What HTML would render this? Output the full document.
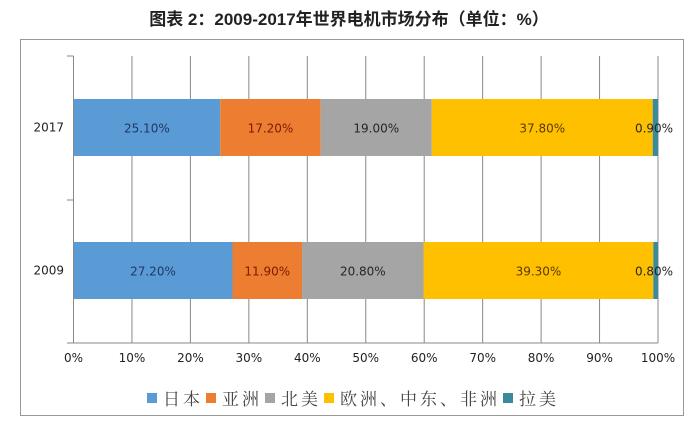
<!DOCTYPE html>
<html><head><meta charset="utf-8"><style>
body{margin:0;background:#fff;width:698px;height:429px;overflow:hidden;font-family:"Liberation Sans","Noto Sans CJK SC",sans-serif}
</style></head><body>
<svg width="698" height="429" style="position:absolute;left:0;top:0">
<text x="349" y="25" text-anchor="middle" font-size="17" font-weight="bold" fill="#222" font-family="Liberation Sans,Noto Sans CJK SC,sans-serif">图表 2：2009-2017年世界电机市场分布（单位：%）</text>
<rect x="20.5" y="39.5" width="663" height="376" fill="none" stroke="#999"/>
<g id="grid"></g><g id="bars"></g><g id="axes"></g><g id="legend"></g>
</svg>
<script>
const categories=["2017","2009"];
const seriesNames=["日本","亚洲","北美","欧洲、中东、非洲","拉美"];
const colors=["#5b9bd5","#ed7d31","#a5a5a5","#ffc000","#3a8a9a"];
const labelColors=["#1f3864","#7b1c00","#262626","#5a3a00","#262626"];
const values2017=[25.1,17.2,19.0,37.8,0.9];
const values2009=[27.2,11.9,20.8,39.3,0.8];
const seriesValues=[values2017,values2009];
const ticks=[0,10,20,30,40,50,60,70,80,90,100];
const NS="http://www.w3.org/2000/svg";
const X0=73.5,X1=658,YT=56,YB=343;
const xs=v=>X0+(X1-X0)*v/100;
const bandY=[99,242],bandH=57;
const LF="DejaVu Sans,Liberation Sans,sans-serif";
function mk(t,a,p){const e=document.createElementNS(NS,t);for(const k in a)e.setAttribute(k,a[k]);p.appendChild(e);return e;}
const grid=document.getElementById('grid'),bars=document.getElementById('bars'),axes=document.getElementById('axes'),leg=document.getElementById('legend');
ticks.forEach(t=>{
 const l=mk('line',{x1:xs(t),x2:xs(t),y1:YT,y2:YB,stroke:'#888','stroke-width':1},grid);
 
 
 const tx=mk('text',{x:xs(t),y:362,'text-anchor':'middle','font-size':12,fill:'#222','font-family':LF},axes);
 tx.textContent=t+'%';
 
 
});
const ax=mk('line',{x1:67,x2:X1,y1:YB,y2:YB,stroke:'#888'},axes);


const yax=mk('line',{x1:X0,x2:X0,y1:YT,y2:YB,stroke:'#888'},axes);


[YT,200].forEach(y=>{const tk=mk('line',{x1:67,x2:X0,y1:y,y2:y,stroke:'#888'},axes);
 
 });
categories.forEach((c,i)=>{
 const t=mk('text',{x:64,y:bandY[i]+bandH/2+4,'text-anchor':'end','font-size':12,fill:'#222','font-family':LF},axes);
 t.textContent=c;
 
 
 let acc=0;
 seriesValues[i].forEach((v,j)=>{
  const r=mk('rect',{x:xs(acc),y:bandY[i],width:xs(acc+v)-xs(acc),height:bandH,fill:colors[j]},bars);
  
  
  const lb=mk('text',{x:j==4?xs(acc+v)-4:xs(acc+v/2),y:bandY[i]+bandH/2+5,'text-anchor':'middle','font-size':12,fill:labelColors[j],'font-family':LF},bars);
  lb.textContent=v.toFixed(2)+'%';
  
  
  acc+=v;
 });
});
let lx=147;
seriesNames.forEach((n,j)=>{
 const r=mk('rect',{x:lx,y:393,width:10,height:10,fill:colors[j]},leg);
 
 
 const t=mk('text',{x:lx+16,y:405,'font-size':17,fill:'#444','letter-spacing':3,'font-family':'Noto Serif CJK SC,serif'},leg);
 t.textContent=n;
 
 
 lx+=16+t.getComputedTextLength()+3;
});
</script>
</body></html>
